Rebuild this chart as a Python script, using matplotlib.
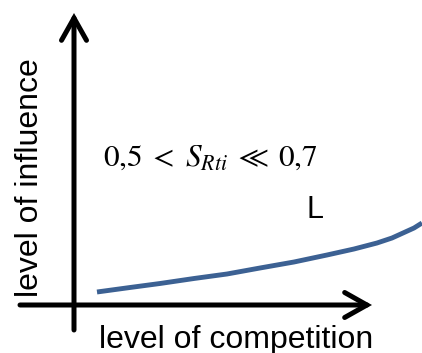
import numpy as np
import matplotlib.pyplot as plt

plt.rcParams['mathtext.fontset'] = 'stix'

# curve (competition, influence), arbitrary units
competition = [23, 56, 86, 120, 153, 186, 220, 253, 280, 303, 318, 329, 340, 348]
influence = [13, 17.5, 21.5, 26.5, 31, 37, 43, 50, 56, 62, 67, 72, 77, 82]

x_label = 'level of competition'
y_label = 'level of influence'
condition = r'$0{,}5\; < \;S_{Rti}\; \ll \;0{,}7$'
curve_tag = 'L'

fig = plt.figure(figsize=(4.22, 3.53), dpi=100)
ax = fig.add_axes([0, 0, 1, 1])
ax.set_xlim(-74, 348)
ax.set_ylim(-48, 305)
ax.axis('off')

arrow = dict(arrowstyle='->,head_length=0.8,head_width=0.45', lw=3.6,
             color='black', shrinkA=0, shrinkB=0, mutation_scale=20,
             joinstyle='miter')
ax.annotate('', xy=(0, 292), xytext=(0, -25), arrowprops=arrow)
ax.annotate('', xy=(298, 0), xytext=(-54, 0), arrowprops=arrow)

ax.plot(competition, influence, color='#3c6193', lw=3.5, solid_capstyle='butt')

ax.text(162, -43, x_label, fontsize=23, family='Liberation Sans',
        ha='center', va='baseline')
ax.text(-44, 127, y_label, fontsize=23, family='Liberation Sans',
        rotation=90, ha='center', va='center')
ax.text(29, 148, condition, fontsize=22.5, ha='left', va='center')
ax.text(241, 95, curve_tag, fontsize=22, family='Liberation Sans',
        ha='center', va='center')

fig.savefig('out.png', dpi=100)
